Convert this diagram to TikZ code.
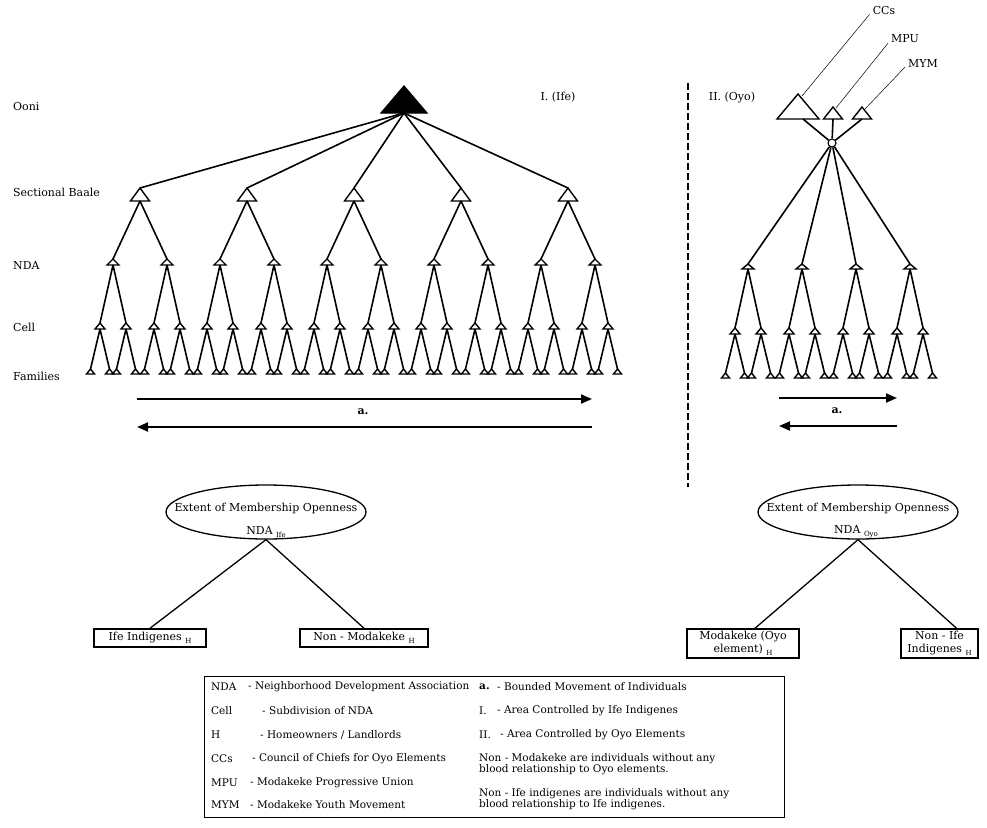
\documentclass[tikz,border=0pt]{standalone}
\usepackage{fontspec}
\setmainfont{DejaVu Serif}
\usetikzlibrary{arrows.meta,shapes.geometric,calc}

% triangle marker: #1 name, #2 x, #3 apex y, #4 base y, #5 half width, #6 style
% defines (#1) at the apex and (#1-b) at the middle of the base
\newcommand{\mytri}[6]{%
  \coordinate (#1) at (#2,#3);
  \coordinate (#1-b) at (#2,#4);
  \draw[#6] (#2-#5,#4) -- (#2,#3) -- (#2+#5,#4) -- cycle;
}
\newcommand{\sbs}[1]{\raisebox{-2.5pt}{\fontsize{7}{7}\selectfont #1}}

\begin{document}
\begin{tikzpicture}[x=1pt,y=-1pt,
  every node/.style={font=\fontsize{11}{13}\selectfont, inner sep=0pt},
  tri/.style={line width=1.4pt, fill=white, line join=miter},
  solidtri/.style={line width=1.2pt, fill=black},
  edge/.style={line width=1.6pt},
  leader/.style={line width=0.5pt},
  movearrow/.style={line width=1.9pt, -{Triangle[length=11pt,width=9pt]}},
  oval/.style={ellipse, draw, line width=1.3pt, minimum width=200pt, minimum height=54pt},
  box/.style={draw, line width=1.5pt, align=center},
  lvl/.style={anchor=west},
  leg/.style={anchor=west, font=\fontsize{10.5}{12}\selectfont}]
\useasboundingbox (0,0) rectangle (987,827);

% ---------- level names ----------
\node[lvl] (tOoni) at (13,106) {Ooni};
\node[lvl] (tBaale) at (13,192) {Sectional Baale};
\node[lvl] (tNDA) at (13,266) {NDA};
\node[lvl] (tCell) at (13,327) {Cell};
\node[lvl] (tFam) at (13,376) {Families};
\node (tIfe) at (558,97) {I. (Ife)};

% ---------- Ife hierarchy ----------
\mytri{Ooni}{404}{86}{113}{23}{solidtri}
\foreach \i in {0,...,4} {
  \pgfmathsetmacro\bx{140+107*\i}
  \mytri{LB\i}{\bx}{188}{201}{9.5}{tri}
  \draw[edge] (Ooni-b) -- (LB\i);
  \foreach \j in {0,1} {
    \pgfmathsetmacro\nx{\bx+54*\j-27}
    \mytri{LN\i\j}{\nx}{259}{265}{6}{tri}
    \draw[edge] (LB\i-b) -- (LN\i\j);
    \foreach \k in {0,1} {
      \pgfmathsetmacro\cx{\nx+26*\k-13}
      \mytri{LC\i\j\k}{\cx}{323}{329}{5}{tri}
      \draw[edge] (LN\i\j-b) -- (LC\i\j\k);
      \foreach \m in {0,1} {
        \pgfmathsetmacro\fx{\cx+19*\m-9.5}
        \mytri{LF\i\j\k\m}{\fx}{369}{374}{4}{tri}
        \draw[edge] (LC\i\j\k-b) -- (LF\i\j\k\m);
      }
    }
  }
}

% ---------- Oyo hierarchy ----------
\node (tOyo) at (732,98) {II. (Oyo)};
\mytri{CC}{798}{94}{119}{21}{tri}
\mytri{MPU}{833}{107}{119}{9.5}{tri}
\mytri{MYM}{862}{107}{119}{9.5}{tri}
\node[circle, draw, line width=1.1pt, minimum size=8pt] (hub) at (832,143) {};
\draw[edge] ($(CC-b)+(5,0)$) -- (hub);
\draw[edge] (MPU-b) -- (hub);
\draw[edge] (MYM-b) -- (hub);

\node (lCC) at (884,10) {CCs};
\node (lMPU) at (905,39) {MPU};
\node (lMYM) at (923,63) {MYM};
\draw[leader] ($(lCC.south west)+(-3,0)$) -- ($(CC)+(4,2)$);
\draw[leader] ($(lMPU.south west)+(-3,0)$) -- ($(MPU)+(3,1)$);
\draw[leader] ($(lMYM.south west)+(-3,0)$) -- ($(MYM)+(3,2)$);

\foreach \i in {0,...,3} {
  \pgfmathsetmacro\nx{748+54*\i}
  \mytri{RN\i}{\nx}{264}{269}{6}{tri}
  \draw[edge] (hub) -- (RN\i);
  \foreach \k in {0,1} {
    \pgfmathsetmacro\cx{\nx+26*\k-13}
    \mytri{RC\i\k}{\cx}{328}{334}{5}{tri}
    \draw[edge] (RN\i-b) -- (RC\i\k);
    \foreach \m in {0,1} {
      \pgfmathsetmacro\fx{\cx+19*\m-9.5}
      \mytri{RF\i\k\m}{\fx}{373}{378}{4}{tri}
      \draw[edge] (RC\i\k-b) -- (RF\i\k\m);
    }
  }
}

% ---------- boundary between the two areas ----------
\coordinate (divTop) at (688,83);
\coordinate (divBot) at (688,487);
\draw[line width=2.3pt, dash pattern=on 7pt off 3pt] (divTop) -- (divBot);

% ---------- bounded movement ----------
\coordinate (aL1) at (137,399); \coordinate (aR1) at (592,399);
\coordinate (aL2) at (137,427); \coordinate (aR2) at (592,427);
\draw[movearrow] (aL1) -- (aR1);
\draw[movearrow] (aR2) -- (aL2);
\node (ma) at (363,412) {\bfseries a.};

\coordinate (bL1) at (779,398); \coordinate (bR1) at (897,398);
\coordinate (bL2) at (779,426); \coordinate (bR2) at (897,426);
\draw[movearrow] (bL1) -- (bR1);
\draw[movearrow] (bR2) -- (bL2);
\node (mb) at (837,411) {\bfseries a.};

% ---------- membership openness, Ife ----------
\node[oval] (eIfe) at (266,512) {};
\node (eIfeT) at (266,508) {Extent of Membership Openness};
\node (eIfeN) at (266,532) {NDA \sbs{Ife}};
\node[box, minimum width=112pt, minimum height=18pt] (bIfe) at (150,638) {Ife Indigenes \sbs{H}};
\node[box, minimum width=128pt, minimum height=18pt] (bNonM) at (364,638) {Non - Modakeke \sbs{H}};
\draw[line width=1.3pt] (eIfe.south) -- (bIfe.north);
\draw[line width=1.3pt] (eIfe.south) -- (bNonM.north);

% ---------- membership openness, Oyo ----------
\node[oval] (eOyo) at (858,512) {};
\node (eOyoT) at (858,508) {Extent of Membership Openness};
\node (eOyoN) at (856,532) {NDA \sbs{Oyo}};
\node[box, minimum width=112pt, minimum height=29pt] (bMod) at (743,643.5) {Modakeke (Oyo\\[0pt]element) \sbs{H}};
\node[box, minimum width=77pt, minimum height=29pt] (bNonI) at (939.5,643.5) {Non - Ife\\[0pt]Indigenes \sbs{H}};
\draw[line width=1.3pt] (eOyo.south) -- ($(bMod.north)+(12,0)$);
\draw[line width=1.3pt] (eOyo.south) -- ($(bNonI.north)+(17,0)$);

% ---------- key ----------
\node[draw, line width=1.2pt, anchor=north west, minimum width=580pt, minimum height=141pt] (key) at (204,676) {};
\node[leg] (k1a) at (211,687) {NDA};
\node[leg] (k1b) at (248,687) {- Neighborhood Development Association};
\node[leg] (k2a) at (211,711) {Cell};
\node[leg] (k2b) at (262,711) {- Subdivision of NDA};
\node[leg] (k3a) at (211,735) {H};
\node[leg] (k3b) at (260,735) {- Homeowners / Landlords};
\node[leg] (k4a) at (211,759) {CCs};
\node[leg] (k4b) at (252,759) {- Council of Chiefs for Oyo Elements};
\node[leg] (k5a) at (211,783) {MPU};
\node[leg] (k5b) at (250,783) {- Modakeke Progressive Union};
\node[leg] (k6a) at (211,805) {MYM};
\node[leg] (k6b) at (250,805) {- Modakeke Youth Movement};

\node[leg] (k7a) at (479,687) {\bfseries a.};
\node[leg] (k7b) at (497,687) {- Bounded Movement of Individuals};
\node[leg] (k8a) at (479,711) {I.};
\node[leg] (k8b) at (497,711) {- Area Controlled by Ife Indigenes};
\node[leg] (k9a) at (479,735) {II.};
\node[leg] (k9b) at (500,735) {- Area Controlled by Oyo Elements};
\node[leg] (k10) at (479,759) {Non - Modakeke are individuals without any};
\node[leg] (k11) at (479,770) {blood relationship to Oyo elements.};
\node[leg] (k12) at (479,794) {Non - Ife indigenes are individuals without any};
\node[leg] (k13) at (479,805) {blood relationship to Ife indigenes.};
\end{tikzpicture}
\end{document}
